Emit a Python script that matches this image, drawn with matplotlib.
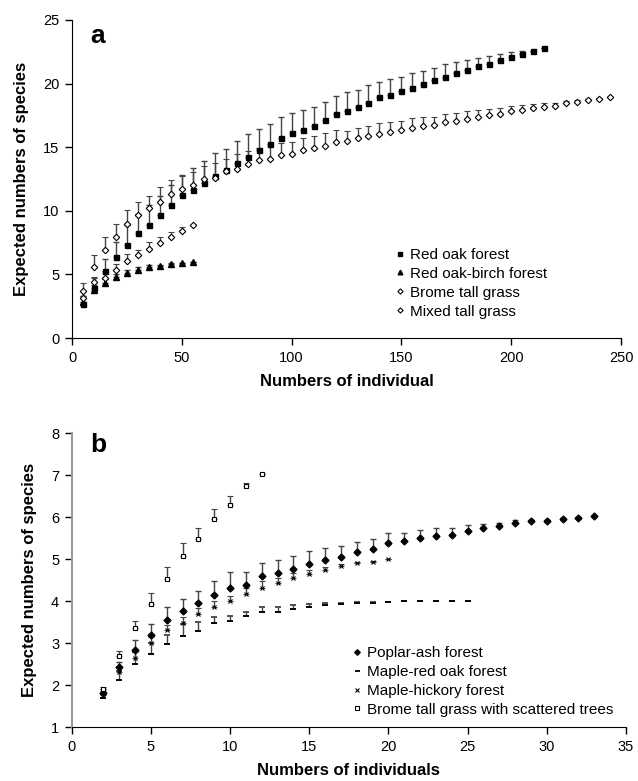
import numpy as np
import matplotlib
matplotlib.use("Agg")
import matplotlib.pyplot as plt
from matplotlib.lines import Line2D

plt.rcParams['font.family'] = ['Liberation Sans', 'DejaVu Sans']

# ---- panel a data ----
x_red_oak = list(range(5, 220, 5))
red_oak = [2.67, 3.95, 5.27, 6.34, 7.31, 8.23, 8.91, 9.67, 10.43, 11.22, 11.64, 12.21, 12.74,
           13.2, 13.73, 14.25, 14.75, 15.23, 15.72, 16.09, 16.38, 16.69, 17.11, 17.58, 17.82,
           18.18, 18.47, 18.92, 19.08, 19.42, 19.68, 19.97, 20.28, 20.54, 20.86, 21.07, 21.41,
           21.56, 21.86, 22.12, 22.35, 22.59, 22.82]
red_oak_err = [0.6, 0.8, 0.92, 1.18, 1.57, 1.55, 1.55, 1.49, 1.6, 1.6, 1.75, 1.68, 1.78, 1.63,
               1.78, 1.76, 1.7, 1.62, 1.68, 1.57, 1.54, 1.49, 1.47, 1.44, 1.54, 1.32, 1.42, 1.23,
               1.26, 1.12, 1.13, 1.04, 0.97, 0.98, 0.84, 0.76, 0.63, 0.61, 0.44, 0.34, 0.21, 0.0, 0.0]

x_birch = list(range(5, 60, 5))
birch = [2.85, 3.75, 4.35, 4.82, 5.15, 5.38, 5.56, 5.65, 5.82, 5.87, 6.0]
birch_err = [0.45, 0.4, 0.3, 0.25, 0.2, 0.18, 0.15, 0.1, 0.08, 0.05, 0.0]

x_brome = list(range(5, 60, 5))
brome = [3.12, 4.4, 4.74, 5.35, 6.05, 6.52, 7.0, 7.49, 7.96, 8.44, 8.91]
brome_err = [0.55, 0.4, 0.4, 0.45, 0.53, 0.4, 0.57, 0.47, 0.4, 0.31, 0.0]

x_mixed = list(range(5, 250, 5))
mixed = [3.69, 5.56, 6.92, 7.96, 8.94, 9.67, 10.2, 10.72, 11.34, 11.69, 12.03, 12.5, 12.6,
         13.13, 13.31, 13.68, 13.97, 14.07, 14.39, 14.47, 14.75, 14.94, 15.12, 15.41, 15.46,
         15.75, 15.85, 16.06, 16.22, 16.35, 16.53, 16.69, 16.72, 16.95, 17.06, 17.22, 17.4,
         17.53, 17.61, 17.85, 17.9, 18.06, 18.14, 18.24, 18.45, 18.58, 18.69, 18.79, 18.92]
mixed_err = [0.66, 0.94, 1.0, 0.98, 1.12, 1.05, 1.0, 1.18, 1.08, 1.07, 1.05, 1.02, 1.13, 0.92,
             1.13, 1.02, 0.94, 1.0, 0.97, 0.96, 0.95, 0.96, 0.97, 0.94, 0.81, 0.73, 0.84, 0.87,
             0.78, 0.73, 0.74, 0.66, 0.68, 0.63, 0.6, 0.63, 0.52, 0.5, 0.45, 0.41, 0.39, 0.34,
             0.31, 0.26, 0.2, 0.15, 0.1, 0.05, 0.0]

# ---- panel b data ----
x_poplar = list(range(2, 34))
poplar = [1.8, 2.42, 2.84, 3.2, 3.54, 3.76, 3.95, 4.15, 4.32, 4.38, 4.6, 4.67, 4.76, 4.88, 4.98,
          5.06, 5.16, 5.25, 5.38, 5.42, 5.51, 5.56, 5.58, 5.67, 5.74, 5.78, 5.86, 5.9, 5.91,
          5.95, 5.98, 6.02]
poplar_err = [0.1, 0.14, 0.24, 0.25, 0.31, 0.29, 0.28, 0.32, 0.36, 0.3, 0.3, 0.3, 0.32, 0.3,
              0.28, 0.26, 0.24, 0.23, 0.24, 0.2, 0.19, 0.17, 0.16, 0.13, 0.1, 0.08, 0.06, 0.04,
              0.03, 0.02, 0.01, 0.0]

x_red_maple = list(range(2, 26))
red_maple = [1.7, 2.13, 2.5, 2.75, 2.97, 3.16, 3.29, 3.48, 3.53, 3.65, 3.74, 3.75, 3.82, 3.85,
             3.9, 3.92, 3.95, 3.96, 3.98, 3.99, 4.0, 4.0, 4.0, 4.0]
red_maple_err = [0.08, 0.2, 0.28, 0.26, 0.22, 0.3, 0.22, 0.15, 0.12, 0.1, 0.11, 0.1, 0.08, 0.07,
                 0.05, 0.03, 0.03, 0.02, 0.0, 0.0, 0.0, 0.0, 0.0, 0.0]

x_hickory = list(range(2, 21))
hickory = [1.77, 2.3, 2.64, 3.0, 3.3, 3.47, 3.69, 3.86, 4.0, 4.17, 4.32, 4.43, 4.56, 4.65, 4.75,
           4.84, 4.9, 4.94, 5.0]
hickory_err = [0.08, 0.12, 0.15, 0.15, 0.14, 0.14, 0.14, 0.14, 0.13, 0.13, 0.15, 0.12, 0.1,
               0.08, 0.06, 0.04, 0.03, 0.01, 0.0]

x_brome_trees = list(range(2, 13))
brome_trees = [1.9, 2.7, 3.36, 3.92, 4.52, 5.08, 5.48, 5.95, 6.29, 6.73, 7.02]
brome_trees_err = [0.05, 0.11, 0.17, 0.27, 0.3, 0.3, 0.27, 0.24, 0.22, 0.09, 0.0]


def up_err(ax, x, y, err, style):
    # one-sided (upper) error bars like the original
    ax.errorbar(x, y, yerr=[np.zeros(len(err)), err], linestyle='none',
                ecolor='#444444', elinewidth=1.0, capsize=2.5, capthick=1.0, **style)
    return Line2D([], [], linestyle='none', **style)


def add_legend(ax, handles, labels, left, top):
    ax.legend(handles, labels, loc='upper left', bbox_to_anchor=(left, top),
              bbox_transform=fig.transFigure, frameon=False, fontsize=11,
              handletextpad=0.36, handlelength=0.6, labelspacing=0.32,
              borderpad=0, borderaxespad=0, markerscale=0.8)


fig = plt.figure(figsize=(6.38, 7.81), dpi=100)

# ---------------- panel a ----------------
ax1 = fig.add_axes([0.1129, 0.5672, 0.8605, 0.4072])
labels_a = ['Red oak forest', 'Red oak-birch forest', 'Brome tall grass', 'Mixed tall grass']
h_a = [
    up_err(ax1, x_red_oak, red_oak, red_oak_err,
           dict(marker='s', ms=3.6, mfc='black', mec='black', color='black')),
    up_err(ax1, x_birch, birch, birch_err,
           dict(marker='^', ms=4.2, mfc='black', mec='black', color='black')),
    up_err(ax1, x_brome, brome, brome_err,
           dict(marker='D', ms=3.3, mfc='white', mec='black', mew=0.8, color='black')),
    up_err(ax1, x_mixed, mixed, mixed_err,
           dict(marker='D', ms=3.3, mfc='white', mec='black', mew=0.8, color='black')),
]

ax1.set_xlim(0, 250)
ax1.set_ylim(0, 25)
ax1.set_xticks([0, 50, 100, 150, 200, 250])
ax1.set_yticks([0, 5, 10, 15, 20, 25])
ax1.set_xlabel('Numbers of individual', fontsize=12, fontweight='bold', labelpad=7)
ax1.set_ylabel('Expected numbers of species', fontsize=12, fontweight='bold', labelpad=10)
ax1.text(0.033, 0.95, 'a', transform=ax1.transAxes, fontsize=19, fontweight='bold',
         va='center', ha='left')
add_legend(ax1, h_a, labels_a, 0.62, 0.6826)

# ---------------- panel b ----------------
ax2 = fig.add_axes([0.1124, 0.0691, 0.8688, 0.3764])
labels_b = ['Poplar-ash forest', 'Maple-red oak forest', 'Maple-hickory forest',
            'Brome tall grass with scattered trees']
h_b = [
    up_err(ax2, x_poplar, poplar, poplar_err,
           dict(marker='D', ms=3.5, mfc='black', mec='black', color='black')),
    up_err(ax2, x_red_maple, red_maple, red_maple_err,
           dict(marker='_', ms=4.5, mec='black', mew=1.3, color='black')),
    up_err(ax2, x_hickory, hickory, hickory_err,
           dict(marker='x', ms=3, mec='black', mew=0.8, color='black')),
    up_err(ax2, x_brome_trees, brome_trees, brome_trees_err,
           dict(marker='s', ms=3.5, mfc='white', mec='black', mew=0.8, color='black')),
]

ax2.set_xlim(0, 35)
ax2.set_ylim(1, 8)
ax2.set_xticks(range(0, 36, 5))
ax2.set_yticks(range(1, 9))
ax2.set_xlabel('Numbers of individuals', fontsize=12, fontweight='bold', labelpad=7)
ax2.set_ylabel('Expected numbers of species', fontsize=12, fontweight='bold', labelpad=10)
ax2.text(0.033, 0.96, 'b', transform=ax2.transAxes, fontsize=19, fontweight='bold',
         va='center', ha='left')
add_legend(ax2, h_b, labels_b, 0.5525, 0.1727)

for ax in (ax1, ax2):
    ax.spines['top'].set_visible(False)
    ax.spines['right'].set_visible(False)
    ax.tick_params(direction='out', length=5, width=1, labelsize=10.5, pad=4)
ax2.spines['left'].set_color('#999999')
ax2.spines['left'].set_linewidth(1.5)

fig.savefig('out.png', dpi=100)
